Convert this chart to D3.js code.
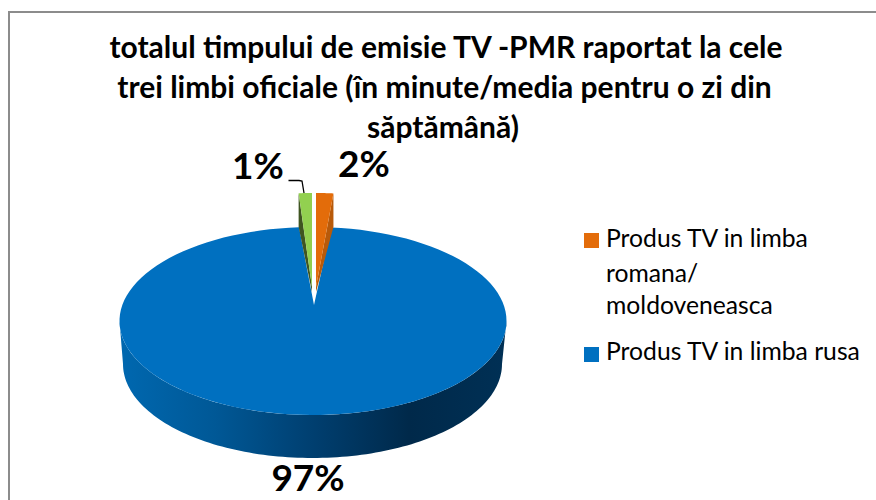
<!DOCTYPE html>
<meta charset="utf-8">
<style>
body { margin: 0; background: #fff; }
text { font-family: Lato, "Open Sans", sans-serif; fill: #000; }
.title { font-size: 30px; font-weight: 700; text-anchor: middle; }
.pct { font-size: 37px; font-weight: 700; text-anchor: middle; }
.legend { font-size: 24.7px; }
</style>
<svg width="876" height="500"></svg>
<script src="https://d3js.org/d3.v7.min.js"></script>
<script>

var titleLines = ["totalul timpului de emisie TV -PMR raportat la cele",
                  "trei limbi oficiale (în minute/media pentru o zi din",
                  "săptămână)"];
var categories = ["Produs TV in limba romana/ moldoveneasca", "Produs TV in limba rusa", "Altele"];
var values = [1.5, 97.35, 1.15];   // labels show them rounded
var colors = ["#e36c0a", "#0070c0", "#92d050"];
var darkColors = ["#b85a0a", "#005a9c", "#3f5521"];
var legendLines = [["Produs TV in limba", "romana/", "moldoveneasca"], ["Produs TV in limba rusa"]];

var svg = d3.select("svg");

svg.append("rect").attr("x", 9).attr("y", 12).attr("width", 900).attr("height", 500)
    .attr("fill", "#fff").attr("stroke", "#8c8c8c").attr("stroke-width", 2);

svg.selectAll(".title").data(titleLines).enter().append("text")
    .attr("class", "title")
    .attr("x", function(d, i) { return [446, 444.5, 443][i]; })
    .attr("y", function(d, i) { return 58 + i * 40; })
    .text(function(d) { return d; });

var pie = d3.pie().sort(null).value(function(d) { return d; });
var arcs = pie(values);

// top face ellipse of the pie and the (slightly narrower) bottom edge
var face = {cx: 313, cy: 321, rx: 193.5, ry: 94},
    low = {cx: 312.5, cy: 364, rx: 189.5, ry: 94};

function pt(e, a) { return [e.cx + e.rx * Math.sin(a), e.cy - e.ry * Math.cos(a)]; }
function sweep(e, a0, a1) {
  return d3.range(0, 121).map(function(i) { return pt(e, a0 + (a1 - a0) * i / 120); });
}
var line = d3.line();

var defs = svg.append("defs");
var grad = defs.append("linearGradient").attr("id", "wall")
    .attr("gradientUnits", "userSpaceOnUse")
    .attr("x1", 119).attr("x2", 506).attr("y1", 0).attr("y2", 0);
[[0, "#0068b0"], [0.25, "#005896"], [0.5, "#003f70"], [0.75, "#00294a"], [1, "#003055"]].forEach(function(s) {
  grad.append("stop").attr("offset", s[0]).attr("stop-color", s[1]);
});

// blue wall, front half only
svg.append("path")
    .attr("d", line(sweep(face, Math.PI * 0.5, Math.PI * 1.5).concat(sweep(low, Math.PI * 1.5, Math.PI * 0.5))) + "Z")
    .attr("fill", "url(#wall)");

// blue top face, apex sits above the ellipse centre because of the perspective
var blue = arcs[1];
svg.append("path")
    .attr("d", line([[314, 305]].concat(sweep(face, blue.startAngle, blue.endAngle))) + "Z")
    .attr("fill", colors[1]);

// the two pulled out wedges
function wedge(d, i, ox) {
  var e = {cx: ox, cy: 287, rx: 185, ry: 94};
  var outer = sweep(e, d.startAngle, d.endAngle);
  var cutEdge = i == 0 ? outer[outer.length - 1] : outer[0];
  svg.append("path")
      .attr("d", line([[ox, 287], cutEdge, [cutEdge[0], 227], [ox, 292]]) + "Z")
      .attr("fill", darkColors[i]);
  svg.append("path")
      .attr("d", line([[ox, 287]].concat(outer)) + "Z")
      .attr("fill", colors[i]);
}
wedge(arcs[0], 0, 316);
wedge(arcs[2], 2, 312);

// data labels
var pctLabels = [{v: values[0], x: 364, y: 177}, {v: values[1], x: 308, y: 491}, {v: values[2], x: 258, y: 179}];
svg.selectAll(".pct").data(pctLabels).enter().append("text")
    .attr("class", "pct")
    .attr("x", function(d) { return d.x; })
    .attr("y", function(d) { return d.y; })
    .text(function(d) { return Math.round(d.v) + "%"; });

// leader line for the 1% label
svg.append("path")
    .attr("d", "M288.5,180.5H299L302,181L304,193")
    .attr("fill", "none").attr("stroke", "#000").attr("stroke-width", 1.3);

// legend
var legendY = [[247, 282, 314], [360]];
legendLines.forEach(function(lines, k) {
  svg.append("rect").attr("x", 584).attr("y", k == 0 ? 233 : 347)
      .attr("width", 15).attr("height", 15)
      .attr("fill", k == 0 ? colors[0] : colors[1]);
  lines.forEach(function(t, j) {
    svg.append("text").attr("class", "legend")
        .attr("x", 606).attr("y", legendY[k][j]).text(t);
  });
});

</script>
